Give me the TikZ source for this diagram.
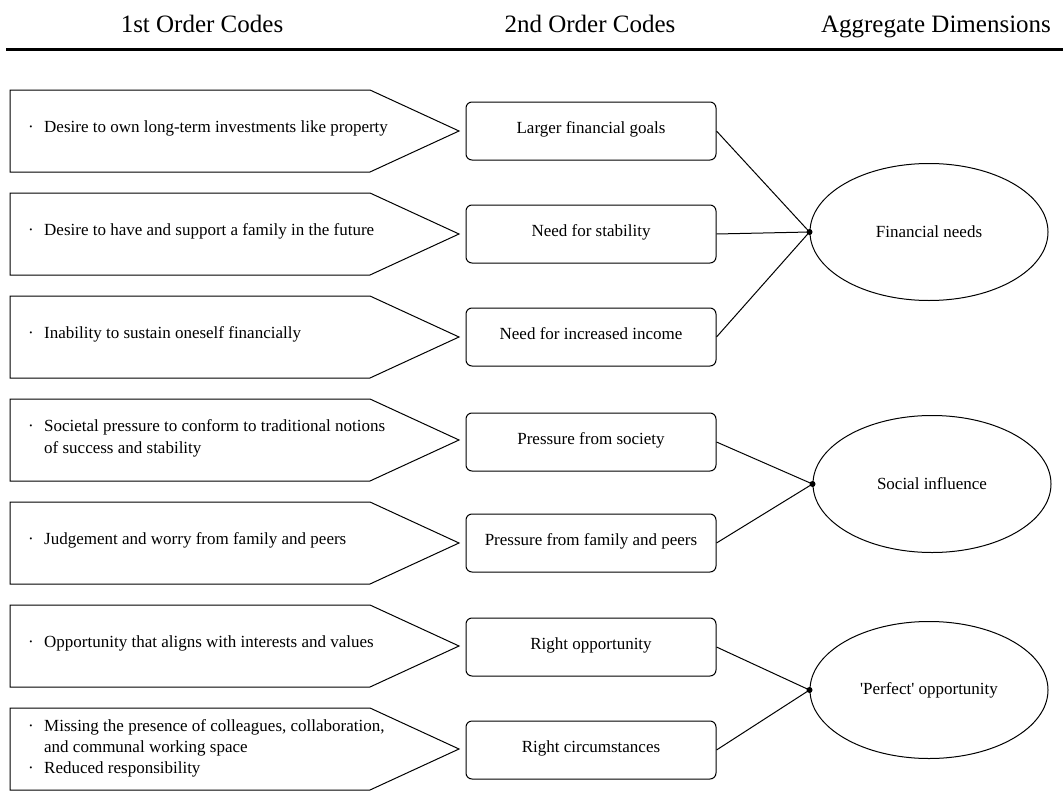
\documentclass[tikz,border=0pt]{standalone}
\usepackage{fontspec}
\setmainfont{Liberation Serif}
\usetikzlibrary{shapes.geometric}
\newcommand{\bl}{\makebox[16pt][l]{·}}
\begin{document}
\begin{tikzpicture}[x=1pt,y=-1pt,line join=miter]
\tikzset{
  hdr/.style={anchor=base,inner sep=0pt,font=\fontsize{25}{30}\selectfont},
  pent/.style={draw,line width=1pt},
  ptext/.style={anchor=west,align=left,inner sep=0pt,yshift=2.5pt,font=\fontsize{17}{22}\selectfont},
  codebox/.style={draw,line width=1pt,rounded corners=6pt,minimum width=250pt,minimum height=58pt,
    text height=12pt,text depth=7pt,inner sep=0pt,font=\fontsize{17}{21}\selectfont},
  dim/.style={draw,ellipse,line width=1pt,minimum width=238pt,minimum height=137pt,inner sep=0pt,
    font=\fontsize{17}{21}\selectfont},
  hub/.style={circle,fill,inner sep=0pt,minimum size=6pt},
  link/.style={line width=1pt}
}
\useasboundingbox (0,0) rectangle (1063,792);
% header
\node[hdr] (h1) at (202,33) {1st Order Codes};
\node[hdr] (h2) at (590,33) {2nd Order Codes};
\node[hdr] (h3) at (936,33) {Aggregate Dimensions};
\coordinate (rl) at (6,49.5);
\coordinate (rr) at (1063,49.5);
\draw[line width=2.6pt] (rl) -- (rr);
% pentagons (1st order codes)
\foreach \t in {90,193,296,399,502,605,708}{
  \draw[pent] (10,\t) -- (370,\t) -- (459,\t+41) -- (370,\t+82) -- (10,\t+82) -- cycle;
}
\node[ptext] (p1) at (28,131) {\bl Desire to own long-term investments like property};
\node[ptext] (p2) at (28,234) {\bl Desire to have and support a family in the future};
\node[ptext] (p3) at (28,337) {\bl Inability to sustain oneself financially};
\node[ptext] (p4) at (28,441) {\bl Societal pressure to conform to traditional notions\\\hspace*{16pt}of success and stability};
\node[ptext] (p5) at (28,543) {\bl Judgement and worry from family and peers};
\node[ptext] (p6) at (28,646) {\bl Opportunity that aligns with interests and values};
\node[ptext,font=\fontsize{17}{21}\selectfont] (p7) at (28,751) {\bl Missing the presence of colleagues, collaboration,\\\hspace*{16pt}and communal working space\\\bl Reduced responsibility};
% second order codes
\node[codebox] (b1) at (591,131) {Larger financial goals};
\node[codebox] (b2) at (591,234) {Need for stability};
\node[codebox] (b3) at (591,337) {Need for increased income};
\node[codebox] (b4) at (591,442) {Pressure from society};
\node[codebox] (b5) at (591,543) {Pressure from family and peers};
\node[codebox] (b6) at (591,647) {Right opportunity};
\node[codebox] (b7) at (591,750) {Right circumstances};
% aggregate dimensions
\node[dim] (d1) at (929,232) {Financial needs};
\node[dim] (d2) at (932,484) {Social influence};
\node[dim] (d3) at (929,690) {\textquotesingle Perfect\textquotesingle{} opportunity};
\node[hub] (k1) at (d1.west) {};
\node[hub] (k2) at (d2.west) {};
\node[hub] (k3) at (d3.west) {};
\draw[link] (b1.east) -- (k1.center);
\draw[link] (b2.east) -- (k1.center);
\draw[link] (b3.east) -- (k1.center);
\draw[link] (b4.east) -- (k2.center);
\draw[link] (b5.east) -- (k2.center);
\draw[link] (b6.east) -- (k3.center);
\draw[link] (b7.east) -- (k3.center);
\end{tikzpicture}
\end{document}
